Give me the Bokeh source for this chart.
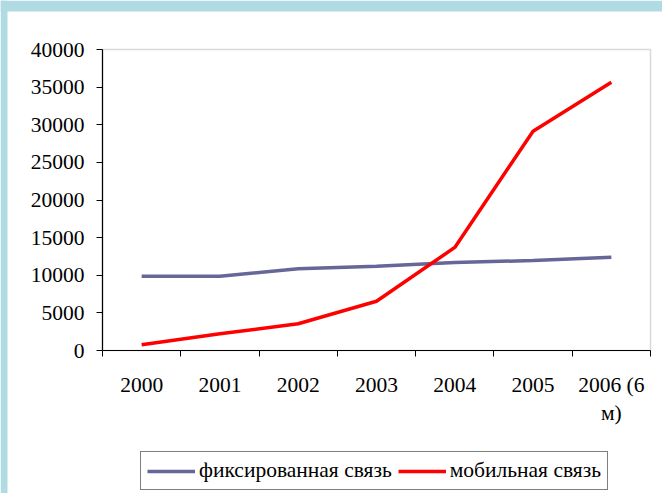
import numpy as np
from bokeh.plotting import figure
from bokeh.models import (FixedTicker, Range1d, Legend, LegendItem,
                          ColumnDataSource, BoxAnnotation)
from bokeh.embed import file_html
from bokeh.resources import INLINE

years = ["2000", "2001", "2002", "2003", "2004", "2005", "2006 (6\nм)"]
fixed = [9870, 9870, 10850, 11200, 11700, 11960, 12400]
mobile = [760, 2220, 3550, 6550, 13700, 29140, 35650]
y_ticks = [0, 5000, 10000, 15000, 20000, 25000, 30000, 35000, 40000]

FONT = "Liberation Serif"
FS = "21.5px"

# layout (pixels)
W, H = 662, 493
TOP, LEFT, RIGHT = 49, 102, 12
PLOT_W = W - LEFT - RIGHT
PLOT_H = 301
BELOW = H - TOP - PLOT_H
BAND_TOP, BAND_LEFT = 11, 7

ncat = len(years)
ymax = y_ticks[-1]
ypp = ymax / PLOT_H          # data units per pixel (y)
xpp = ncat / PLOT_W          # data units per pixel (x)
y0, y1 = -BELOW * ypp, ymax + TOP * ypp
x0, x1 = -LEFT * xpp, ncat + RIGHT * xpp

xpos = list(np.arange(ncat) + 0.5)
src = ColumnDataSource(dict(x=xpos, fixed=fixed, mobile=mobile))

p = figure(width=W, height=H, output_backend="svg", toolbar_location=None,
           x_range=Range1d(x0, x1), y_range=Range1d(y0, y1),
           min_border_left=0, min_border_top=0, min_border_right=0,
           min_border_bottom=0)
p.outline_line_color = None
p.background_fill_color = "white"
p.border_fill_color = "white"
p.grid.visible = False

# slide background bands
band = "#b0dbe3"
p.add_layout(BoxAnnotation(bottom=y1 - BAND_TOP * ypp, fill_color=band,
                           fill_alpha=1, line_color=None, level="underlay"))
p.add_layout(BoxAnnotation(right=x0 + BAND_LEFT * xpp, fill_color=band,
                           fill_alpha=1, line_color=None, level="underlay"))

# plot-area border (gray, Excel style)
p.add_layout(BoxAnnotation(left=0, right=ncat, bottom=0, top=ymax,
                           fill_alpha=0, line_color="#808080", line_width=1.5,
                           level="underlay"))

r1 = p.line("x", "fixed", source=src, line_color="#666699", line_width=3.5)
r2 = p.line("x", "mobile", source=src, line_color="#ff0000", line_width=3.5)

# x axis at y=0: ticks at category boundaries, labels at centers
xa = p.xaxis[0]
xa.fixed_location = 0
xa.bounds = (0, ncat)
xa.ticker = FixedTicker(ticks=xpos, minor_ticks=list(range(ncat + 1)))
xa.major_label_overrides = {float(x): y for x, y in zip(xpos, years)}
xa.major_tick_out = 0
xa.major_tick_in = 0
xa.minor_tick_out = 6
xa.minor_tick_in = 0
xa.minor_tick_line_color = "black"
xa.axis_line_color = "black"
xa.axis_line_width = 1.2
xa.major_label_text_font = FONT
xa.major_label_text_font_size = FS
xa.major_label_text_color = "black"
xa.major_label_standoff = 16

ya = p.yaxis[0]
ya.fixed_location = 0
ya.bounds = (0, ymax)
ya.ticker = FixedTicker(ticks=y_ticks, minor_ticks=[])
ya.major_tick_out = 6
ya.major_tick_in = 0
ya.major_tick_line_color = "black"
ya.axis_line_color = "black"
ya.axis_line_width = 1.2
ya.major_label_text_font = FONT
ya.major_label_text_font_size = FS
ya.major_label_text_color = "black"
ya.major_label_standoff = 12

legend = Legend(items=[LegendItem(label="фиксированная связь", renderers=[r1]),
                       LegendItem(label="мобильная связь", renderers=[r2])],
                orientation="horizontal", location=(140, 3))
legend.border_line_color = "black"
legend.border_line_width = 1
legend.background_fill_alpha = 1
legend.label_text_font = FONT
legend.label_text_font_size = FS
legend.label_text_color = "black"
legend.glyph_width = 48
legend.glyph_height = 20
legend.label_standoff = 4
legend.spacing = 6
legend.padding = 6
legend.margin = 0
p.add_layout(legend, "center")

open("out.html", "w").write(file_html(p, INLINE))
